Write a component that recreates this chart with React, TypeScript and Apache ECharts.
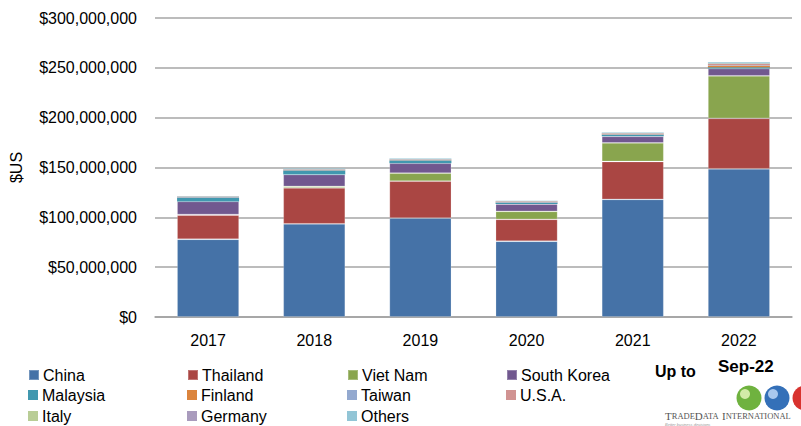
import React, { useEffect, useRef } from "react";
import * as echarts from "echarts";

const years = ["2017", "2018", "2019", "2020", "2021", "2022"];
const seriesNames = ["China", "Thailand", "Viet Nam", "South Korea", "Malaysia", "Finland", "Taiwan", "U.S.A.", "Italy", "Germany", "Others"];
const colors = ["#4572A7", "#AA4643", "#89A54E", "#71588F", "#4198AF", "#DB843D", "#93A9CF", "#D19392", "#B9CD96", "#A99BBD", "#92C5D6"];

const china = [78000000, 93500000, 99300000, 76000000, 118000000, 148700000];
const thailand = [24200000, 36000000, 37000000, 22000000, 38000000, 50600000];
const vietNam = [600000, 1500000, 8000000, 8000000, 18700000, 42700000];
const southKorea = [13200000, 12000000, 10000000, 7300000, 6600000, 7300000];
const malaysia = [3700000, 4000000, 2700000, 1300000, 1400000, 1400000];
const finland = [200000, 200000, 300000, 300000, 300000, 1400000];
const taiwan = [400000, 500000, 500000, 400000, 600000, 400000];
const usa = [300000, 300000, 300000, 600000, 400000, 1400000];
const italy = [300000, 300000, 300000, 200000, 300000, 500000];
const germany = [200000, 200000, 200000, 200000, 200000, 300000];
const others = [400000, 500000, 500000, 400000, 600000, 800000];

const seriesData = [china, thailand, vietNam, southKorea, malaysia, finland, taiwan, usa, italy, germany, others];

const yTicks = { min: 0, max: 300000000, interval: 50000000 };

// legend grid: [name, column, row]
const legendCells: [string, number, number][] = [
  ["China", 0, 0], ["Thailand", 1, 0], ["Viet Nam", 2, 0], ["South Korea", 3, 0],
  ["Malaysia", 0, 1], ["Finland", 1, 1], ["Taiwan", 2, 1], ["U.S.A.", 3, 1],
  ["Italy", 0, 2], ["Germany", 1, 2], ["Others", 2, 2],
];
const legendLefts = [28, 187, 347, 506];
const legendTops = [367, 387, 408];

const FONT = "Liberation Sans";

function fmtMoney(v: number) {
  return "$" + Math.round(v).toString().replace(/\B(?=(\d{3})+(?!\d))/g, ",");
}

export default function App() {
  const ref = useRef<HTMLDivElement>(null);
  useEffect(() => {
    if (!ref.current) return;
    const chart = echarts.init(ref.current, undefined, { renderer: "svg" });
    chart.setOption({
      animation: false,
      backgroundColor: "#ffffff",
      textStyle: { fontFamily: FONT },
      grid: { left: 150, right: 9, top: 18, bottom: 109, containLabel: false },
      xAxis: {
        type: "category",
        data: years,
        axisLine: { show: true, lineStyle: { color: "#A0A0A0", width: 1.5 } },
        axisTick: { show: false },
        axisLabel: { color: "#000", fontSize: 16, fontFamily: FONT, margin: 15 },
      },
      yAxis: {
        type: "value",
        min: yTicks.min,
        max: yTicks.max,
        interval: yTicks.interval,
        name: "$US",
        nameLocation: "middle",
        nameGap: 131,
        nameRotate: 90,
        nameTextStyle: { color: "#000", fontSize: 16, fontFamily: FONT },
        axisLine: { show: false },
        axisTick: { show: false },
        splitLine: { show: true, lineStyle: { color: "#A6A6A6", width: 1.5 } },
        axisLabel: { color: "#000", fontSize: 16, fontFamily: FONT, margin: 18, formatter: (v: number) => fmtMoney(v) },
      },
      legend: legendCells.map(([name, c, r]) => ({
        left: legendLefts[c],
        top: legendTops[r],
        data: [name],
        icon: "rect",
        itemWidth: 10,
        itemHeight: 10,
        itemGap: 0,
        padding: 0,
        selectedMode: false,
        textStyle: { color: "#000", fontSize: 16, fontFamily: FONT, padding: [0, 0, 0, -1] },
      })),
      series: seriesNames.map((name, i) => ({
        name,
        type: "bar",
        stack: "total",
        barWidth: 62,
        data: seriesData[i],
        itemStyle: { color: colors[i], borderColor: "rgba(255,255,255,0.25)", borderWidth: i < 4 ? 0.8 : 0 },
      })),
      graphic: [
        { type: "text", left: 655, top: 363, style: { text: "Up to", font: `bold 16px ${FONT}`, fill: "#000" } },
        { type: "text", left: 718, top: 358, style: { text: "Sep-22", font: `bold 17px ${FONT}`, fill: "#000" } },
        { type: "circle", shape: { cx: 749, cy: 398, r: 12.5 }, style: { fill: "#6FB23F" } },
        { type: "circle", shape: { cx: 745, cy: 394, r: 5 }, style: { fill: "#D3EBA8" } },
        { type: "circle", shape: { cx: 777, cy: 398, r: 12.5 }, style: { fill: "#3470B8" } },
        { type: "circle", shape: { cx: 773, cy: 394, r: 5 }, style: { fill: "#A9C8EE" } },
        { type: "circle", shape: { cx: 805, cy: 398, r: 12.5 }, style: { fill: "#D8322E" } },
        {
          type: "text",
          left: 665,
          top: 410,
          style: {
            text: "{b|T}{s|RADE}{b|D}{s|ATA} {b|I}{s|NTERNATIONAL}",
            rich: {
              b: { fontSize: 11, fontFamily: "Liberation Serif", fill: "#555" },
              s: { fontSize: 8.5, fontFamily: "Liberation Serif", fill: "#555" },
            },
          },
        },
        { type: "text", left: 665, top: 422, style: { text: "Better business decisions", font: `italic 4px ${FONT}`, fill: "#999" } },
      ],
    });
    return () => chart.dispose();
  }, []);
  return <div ref={ref} style={{ width: 801, height: 426, position: "absolute", left: 0, top: 0 }} />;
}
